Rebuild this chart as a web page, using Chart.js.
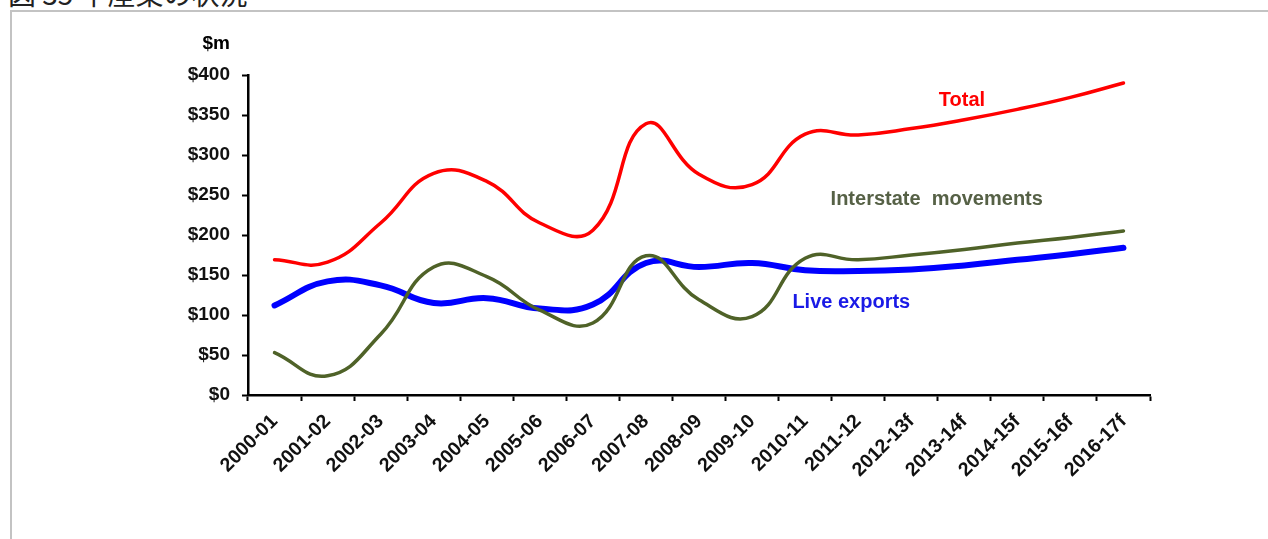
<!DOCTYPE html>
<html>
<head>
<meta charset="utf-8">
<script src="https://cdn.jsdelivr.net/npm/chart.js@4.4.1/dist/chart.umd.min.js"></script>
<style>
    html, body { margin: 0; padding: 0; background: #fff; overflow: hidden; }
    #wrap { position: relative; width: 1268px; height: 539px; }
    #caption {
        position: absolute; left: 8px; top: -21px;
        font: 28px "Noto Sans CJK JP", sans-serif; line-height: 28px; color: #222;
        white-space: nowrap;
    }
    #frame-top { position: absolute; left: 10px; top: 10px; width: 1258px; height: 2px; background: #c3c3c3; }
    #frame-left { position: absolute; left: 10px; top: 10px; width: 2px; height: 529px; background: #c3c3c3; }
    canvas { position: absolute; left: 0; top: 0; }
</style>
</head>
<body>
<div id="wrap">
    <div id="caption">図 35 牛産業の状況</div>
    <div id="frame-top"></div>
    <div id="frame-left"></div>
    <canvas id="cattleChart" width="1268" height="539"></canvas>
</div>
<script>
// --- Data ($m) ---
const years = ['2000-01', '2001-02', '2002-03', '2003-04', '2004-05', '2005-06', '2006-07',
    '2007-08', '2008-09', '2009-10', '2010-11', '2011-12', '2012-13f', '2013-14f',
    '2014-15f', '2015-16f', '2016-17f'];
const total = [169, 166, 215, 277, 267, 215, 206, 339, 276, 263, 326, 325, 333, 344, 357, 372, 390];
const liveExports = [112, 142, 137, 115, 121, 108, 113, 165, 160, 165, 156, 155, 157, 162, 169, 176, 184];
const interstate = [53, 24, 76, 160, 148, 106, 90, 174, 119, 98, 171, 169, 175, 182, 190, 197, 205];
const yTicks = [0, 50, 100, 150, 200, 250, 300, 350, 400];

const FONT = "'Liberation Sans', Arial, sans-serif";

// in-chart series labels, placed in data coordinates (category index, $m)
const seriesLabels = [
    { text: 'Total', color: '#ff0000', at: [12.52, 361] },
    { text: 'Interstate  movements', color: '#566146', at: [10.48, 237.5] },
    { text: 'Live exports', color: '#1a1ae6', at: [9.76, 108.5] }
];

const labelPlugin = {
    id: 'seriesLabels',
    afterDatasetsDraw(chart) {
        const { ctx, scales: { x, y } } = chart;
        ctx.save();
        ctx.font = 'bold 20px ' + FONT;
        ctx.textAlign = 'left';
        ctx.textBaseline = 'alphabetic';
        seriesLabels.forEach(l => {
            ctx.fillStyle = l.color;
            ctx.fillText(l.text, x.getPixelForValue(l.at[0]), y.getPixelForValue(l.at[1]));
        });
        // unit label above the value axis
        ctx.fillStyle = '#000';
        ctx.font = 'bold 19px ' + FONT;
        ctx.textAlign = 'right';
        ctx.fillText('$m', y.right - 18, y.top - 26);
        ctx.restore();
    }
};

function line(label, data, color, width) {
    return {
        label, data,
        borderColor: color,
        borderWidth: width,
        borderCapStyle: 'round',
        tension: 0.45,
        pointRadius: 0,
        fill: false
    };
}

new Chart(document.getElementById('cattleChart'), {
    type: 'line',
    data: {
        labels: years,
        datasets: [
            line('Total', total, '#ff0000', 3.5),
            line('Interstate movements', interstate, '#4f6228', 3.5),
            line('Live exports', liveExports, '#0000ff', 6)
        ]
    },
    options: {
        responsive: false,
        animation: false,
        events: [],
        layout: { padding: { left: 150, right: 118, top: 75, bottom: 0 } },
        plugins: {
            legend: { display: false },
            tooltip: { enabled: false }
        },
        scales: {
            x: {
                offset: true,
                afterFit: s => { s.height = 144; },
                border: { display: true, color: '#000', width: 2.5 },
                grid: {
                    offset: true,
                    drawOnChartArea: false,
                    drawTicks: true,
                    tickLength: 6,
                    tickWidth: 2,
                    tickColor: '#000'
                },
                ticks: {
                    autoSkip: false,
                    minRotation: 45,
                    maxRotation: 45,
                    padding: 9,
                    color: '#111',
                    font: { family: FONT, size: 19.5, weight: 'bold' }
                }
            },
            y: {
                min: 0,
                max: 400,
                afterFit: s => { s.width = 98; },
                afterBuildTicks: s => { s.ticks = yTicks.map(v => ({ value: v })); },
                border: { display: true, color: '#000', width: 2.5 },
                grid: {
                    drawOnChartArea: false,
                    drawTicks: true,
                    tickLength: 6,
                    tickWidth: 2,
                    tickColor: '#000'
                },
                ticks: {
                    padding: 12,
                    color: '#111',
                    font: { family: FONT, size: 19, weight: 'bold' },
                    callback: v => '$' + v
                }
            }
        }
    },
    plugins: [labelPlugin]
});
</script>
</body>
</html>
